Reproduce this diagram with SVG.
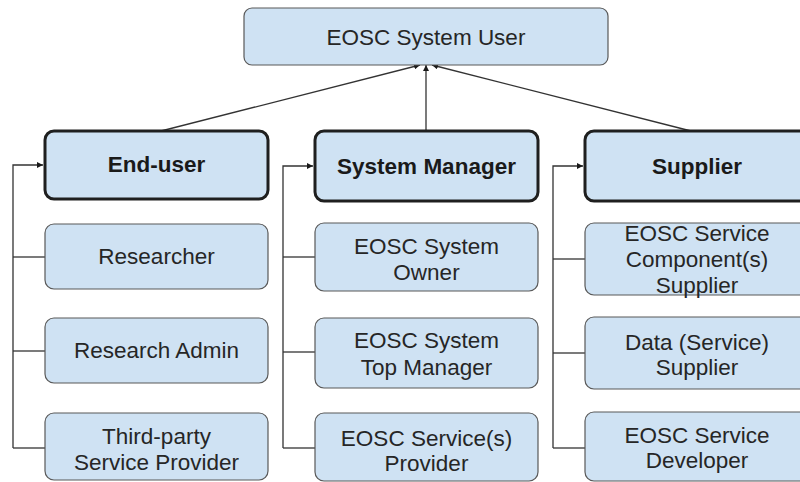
<svg xmlns="http://www.w3.org/2000/svg" width="800" height="482" viewBox="0 0 800 482">
<style>
  .box { fill: #cfe2f3; stroke: #595959; stroke-width: 1.2; }
  .hdr { fill: #cfe2f3; stroke: #1f1f1f; stroke-width: 3; }
  text { font-family: "Liberation Sans", Arial, sans-serif; font-size: 22.5px; fill: #262626; text-anchor: middle; }
  .b { font-weight: bold; fill: #1a1a1a; }
  .ln { fill: none; stroke: #333333; stroke-width: 1.3; }
</style>
<defs>
  <marker id="ah" viewBox="0 0 10 10" refX="10" refY="5" markerWidth="6" markerHeight="6" markerUnits="userSpaceOnUse" orient="auto">
    <path d="M0,0 L10,5 L0,10 z" fill="#1a1a1a"/>
  </marker>
</defs>

<g id="connectors">
  <line class="ln" x1="161" y1="131" x2="420" y2="65" marker-end="url(#ah)"/>
  <line class="ln" x1="426" y1="131" x2="426" y2="65" marker-end="url(#ah)"/>
  <line class="ln" x1="691" y1="131" x2="432" y2="65" marker-end="url(#ah)"/>

  <polyline class="ln" points="13,448 13,165 43,165" marker-end="url(#ah)"/>
  <line class="ln" x1="13" y1="257" x2="45" y2="257"/>
  <line class="ln" x1="13" y1="351" x2="45" y2="351"/>
  <line class="ln" x1="13" y1="448" x2="45" y2="448"/>

  <polyline class="ln" points="283,448 283,166 313,166" marker-end="url(#ah)"/>
  <line class="ln" x1="283" y1="257" x2="315" y2="257"/>
  <line class="ln" x1="283" y1="352" x2="315" y2="352"/>
  <line class="ln" x1="283" y1="448" x2="315" y2="448"/>

  <polyline class="ln" points="553,448 553,166 583,166" marker-end="url(#ah)"/>
  <line class="ln" x1="553" y1="259" x2="585" y2="259"/>
  <line class="ln" x1="553" y1="353" x2="585" y2="353"/>
  <line class="ln" x1="553" y1="448" x2="585" y2="448"/>
</g>

<g id="eosc-system-user">
  <rect class="box" x="244" y="8" width="364" height="57" rx="8"/>
  <text x="426" y="45">EOSC System User</text>
</g>

<g id="end-user">
  <rect class="hdr" x="45" y="131" width="223" height="68" rx="9"/>
  <text class="b" x="156.5" y="172">End-user</text>
</g>
<g id="researcher">
  <rect class="box" x="45" y="224" width="223" height="65" rx="9"/>
  <text x="156.5" y="264">Researcher</text>
</g>
<g id="research-admin">
  <rect class="box" x="45" y="318" width="223" height="65" rx="9"/>
  <text x="156.5" y="358">Research Admin</text>
</g>
<g id="third-party">
  <rect class="box" x="45" y="413" width="223" height="67" rx="9"/>
  <text x="156.5" y="444">Third-party</text>
  <text x="156.5" y="470">Service Provider</text>
</g>

<g id="system-manager">
  <rect class="hdr" x="315" y="131" width="223" height="70" rx="9"/>
  <text class="b" x="426.5" y="174">System Manager</text>
</g>
<g id="eosc-system-owner">
  <rect class="box" x="315" y="223" width="223" height="68" rx="9"/>
  <text x="426.5" y="254">EOSC System</text>
  <text x="426.5" y="280">Owner</text>
</g>
<g id="eosc-system-top-manager">
  <rect class="box" x="315" y="318" width="223" height="70" rx="9"/>
  <text x="426.5" y="348">EOSC System</text>
  <text x="426.5" y="375">Top Manager</text>
</g>
<g id="eosc-services-provider">
  <rect class="box" x="315" y="413" width="223" height="68" rx="9"/>
  <text x="426.5" y="446">EOSC Service(s)</text>
  <text x="426.5" y="471">Provider</text>
</g>

<g id="supplier">
  <rect class="hdr" x="585" y="131" width="224" height="70" rx="9"/>
  <text class="b" x="697" y="174">Supplier</text>
</g>
<g id="eosc-service-component-supplier">
  <rect class="box" x="585" y="223" width="224" height="72" rx="9"/>
  <text x="697" y="241">EOSC Service</text>
  <text x="697" y="267">Component(s)</text>
  <text x="697" y="293">Supplier</text>
</g>
<g id="data-service-supplier">
  <rect class="box" x="585" y="317" width="224" height="72" rx="9"/>
  <text x="697" y="350">Data (Service)</text>
  <text x="697" y="375">Supplier</text>
</g>
<g id="eosc-service-developer">
  <rect class="box" x="585" y="412" width="224" height="69" rx="9"/>
  <text x="697" y="443">EOSC Service</text>
  <text x="697" y="468">Developer</text>
</g>
</svg>
